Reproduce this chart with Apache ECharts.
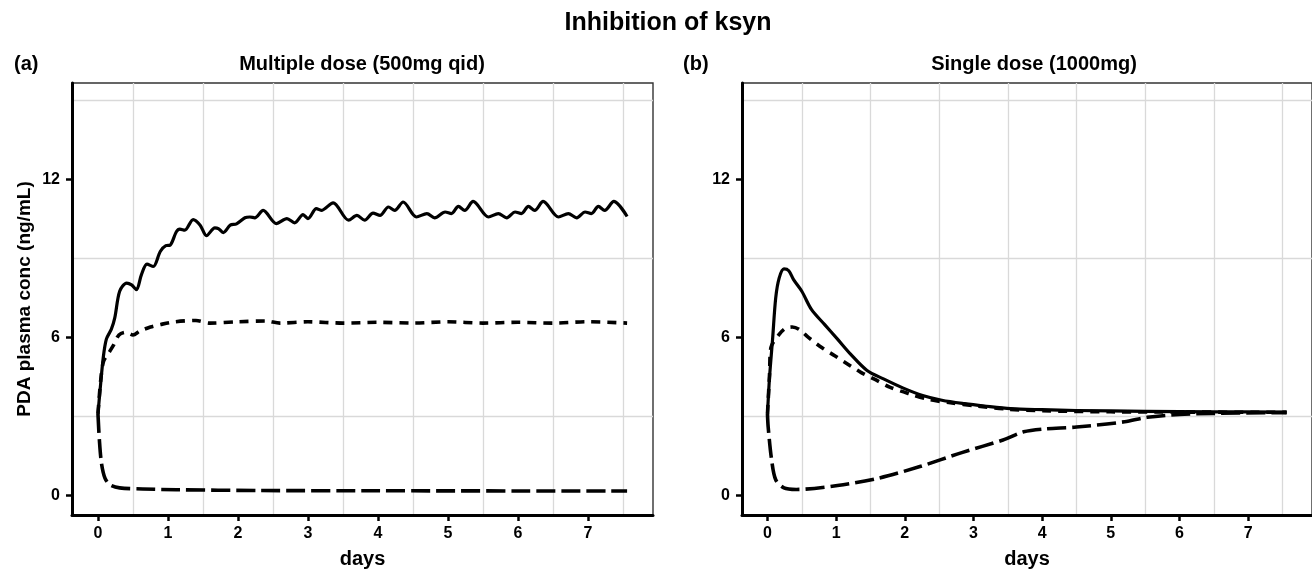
<!DOCTYPE html>
<html>
<head>
<meta charset="utf-8">
<script src="https://cdn.jsdelivr.net/npm/echarts@6/dist/echarts.min.js"></script>
<style>
  html, body { margin: 0; padding: 0; background: #fff; }
  #chart { width: 1312px; height: 574px; }
</style>
</head>
<body>
<div id="chart"></div>
<script>
// ticks and grid positions
var xTicks = [0, 1, 2, 3, 4, 5, 6, 7];
var xGridVals = [0.5, 1.5, 2.5, 3.5, 4.5, 5.5, 6.5, 7.5];
var yTicks = [0, 6, 12];
var yGridVals = [3, 9, 15];

// (a) multiple dose - solid
var multiSolidDays = [0, 0.03, 0.076, 0.12, 0.19, 0.24, 0.31, 0.41, 0.48, 0.55, 0.62, 0.70, 0.79, 0.89, 0.97, 1.03,
  1.12, 1.17, 1.24, 1.36, 1.46, 1.55, 1.67, 1.72, 1.79, 1.89, 1.98, 2.10, 2.17, 2.24, 2.36, 2.55, 2.70, 2.81,
  2.93, 3.00, 3.12, 3.19, 3.36, 3.58, 3.70, 3.81, 3.93, 4.03, 4.15, 4.24, 4.36, 4.55, 4.70, 4.81, 4.96, 5.05,
  5.15, 5.24, 5.36, 5.58, 5.72, 5.84, 5.96, 6.05, 6.15, 6.24, 6.36, 6.58, 6.72, 6.84, 6.96, 7.05, 7.15, 7.24,
  7.37, 7.56];
var multiSolidConc = [3.1, 4.0, 5.25, 5.94, 6.31, 6.75, 7.76, 8.07, 8.0, 7.82, 8.38, 8.79, 8.70, 9.27, 9.49, 9.51,
  10.02, 10.12, 10.08, 10.48, 10.27, 9.87, 10.17, 10.14, 9.99, 10.27, 10.32, 10.55, 10.58, 10.55, 10.83, 10.33, 10.52, 10.36,
  10.67, 10.52, 10.9, 10.83, 11.12, 10.46, 10.64, 10.46, 10.73, 10.64, 10.96, 10.83, 11.15, 10.58, 10.71, 10.55, 10.77, 10.71,
  10.98, 10.83, 11.17, 10.58, 10.71, 10.55, 10.77, 10.71, 10.98, 10.83, 11.17, 10.58, 10.71, 10.55, 10.77, 10.71, 10.98, 10.83,
  11.17, 10.6];

// (a) multiple dose - dotted
var multiDotDays = [0, 0.04, 0.08, 0.15, 0.22, 0.3, 0.4, 0.5, 0.6, 0.75, 0.9, 1.1, 1.4, 1.6, 2.0, 2.4, 2.6, 3.0,
  3.5, 4.0, 4.5, 5.0, 5.5, 6.0, 6.5, 7.0, 7.56];
var multiDotConc = [3.1, 4.4, 5.1, 5.4, 5.7, 6.1, 6.2, 6.1, 6.25, 6.4, 6.5, 6.6, 6.65, 6.55, 6.6, 6.63, 6.55, 6.6,
  6.55, 6.58, 6.55, 6.6, 6.55, 6.58, 6.55, 6.6, 6.55];

// (a) multiple dose - dashed
var multiDashDays = [0, 0.02, 0.05, 0.1, 0.17, 0.31, 0.64, 1.12, 2.31, 4.0, 7.56];
var multiDashConc = [3.1, 2.12, 1.23, 0.66, 0.41, 0.29, 0.25, 0.22, 0.19, 0.18, 0.17];

// (b) single dose - solid
var singleSolidDays = [0, 0.03, 0.076, 0.12, 0.17, 0.24, 0.31, 0.38, 0.5, 0.64, 0.83, 1.02, 1.21, 1.45, 1.69, 1.97,
  2.26, 2.54, 2.87, 3.16, 3.54, 4.0, 4.5, 5.5, 6.5, 7.56];
var singleSolidConc = [3.1, 4.49, 6.0, 7.51, 8.26, 8.61, 8.54, 8.2, 7.76, 7.07, 6.5, 5.94, 5.37, 4.75, 4.43, 4.09,
  3.8, 3.62, 3.49, 3.4, 3.3, 3.26, 3.23, 3.2, 3.18, 3.17];

// (b) single dose - dotted
var singleDotDays = [0, 0.03, 0.05, 0.17, 0.26, 0.36, 0.46, 0.6, 0.79, 0.98, 1.17, 1.36, 1.55, 1.78, 2.07, 2.35,
  2.64, 3.06, 3.5, 4.0, 5.0, 6.0, 7.56];
var singleDotConc = [3.1, 4.6, 5.62, 6.12, 6.35, 6.4, 6.31, 6.0, 5.62, 5.31, 4.99, 4.68, 4.43, 4.12, 3.86, 3.65,
  3.53, 3.4, 3.28, 3.22, 3.18, 3.17, 3.16];

// (b) single dose - dashed
var singleDashDays = [0, 0.01, 0.06, 0.12, 0.24, 0.42, 1.02, 1.62, 2.22, 2.83, 3.43, 3.73, 4.03, 4.5, 5.2, 5.53,
  6.0, 6.5, 7.56];
var singleDashConc = [3.1, 2.61, 1.36, 0.6, 0.29, 0.23, 0.38, 0.66, 1.1, 1.63, 2.11, 2.42, 2.53, 2.6, 2.8, 2.97,
  3.08, 3.12, 3.15];

function pairs(xs, ys) {
  return xs.map(function (x, i) { return [x, ys[i]]; });
}

var FONT = '"Liberation Sans", Arial, sans-serif';
var X_MIN = -0.371, X_MAX = 7.93;
var Y_MIN = -0.74, Y_MAX = 15.67;

function labelXAxis(gridIndex, withName) {
  return {
    type: 'value', gridIndex: gridIndex, position: 'bottom', min: X_MIN, max: X_MAX,
    name: withName ? 'days' : '', nameLocation: 'middle', nameGap: 34,
    nameTextStyle: { fontFamily: FONT, fontWeight: 'bold', fontSize: 20, color: '#000' },
    axisLine: { show: true, onZero: false, lineStyle: { color: '#000', width: 3 } },
    axisTick: { show: true, length: 6, customValues: xTicks, lineStyle: { color: '#000', width: 2.5 } },
    axisLabel: { customValues: xTicks, margin: 11, fontFamily: FONT, fontWeight: 'bold', fontSize: 16, color: '#000' },
    splitLine: { show: false }
  };
}
function gridXAxis(gridIndex) {
  return {
    type: 'value', gridIndex: gridIndex, position: 'top', min: X_MIN, max: X_MAX,
    axisLine: { show: false }, axisLabel: { show: false },
    axisTick: { show: false, customValues: xGridVals },
    splitLine: { show: true, lineStyle: { color: '#d9d9d9', width: 1.3 } }
  };
}
function labelYAxis(gridIndex, withName) {
  return {
    type: 'value', gridIndex: gridIndex, position: 'left', min: Y_MIN, max: Y_MAX,
    name: withName ? 'PDA plasma conc (ng/mL)' : '', nameLocation: 'middle', nameGap: 38, nameRotate: 90,
    nameTextStyle: { fontFamily: FONT, fontWeight: 'bold', fontSize: 19, color: '#000' },
    axisLine: { show: true, onZero: false, lineStyle: { color: '#000', width: 3 } },
    axisTick: { show: true, length: 6, customValues: yTicks, lineStyle: { color: '#000', width: 2.5 } },
    axisLabel: { customValues: yTicks, margin: 12, fontFamily: FONT, fontWeight: 'bold', fontSize: 16, color: '#000' },
    splitLine: { show: false }
  };
}
function gridYAxis(gridIndex) {
  return {
    type: 'value', gridIndex: gridIndex, position: 'right', min: Y_MIN, max: Y_MAX,
    axisLine: { show: false }, axisLabel: { show: false },
    axisTick: { show: false, customValues: yGridVals },
    splitLine: { show: true, lineStyle: { color: '#d9d9d9', width: 1.3 } }
  };
}
function line(xIdx, yIdx, xs, ys, dash) {
  return {
    type: 'line', xAxisIndex: xIdx, yAxisIndex: yIdx, data: pairs(xs, ys),
    showSymbol: false, symbol: 'none', smooth: 0.3, animation: false, silent: true,
    lineStyle: { color: '#000', width: dash ? 3.6 : 3.2, type: dash || 'solid', cap: 'butt', join: 'round' },
    z: 5
  };
}

var chart = echarts.init(document.getElementById('chart'));
chart.setOption({
  animation: false,
  backgroundColor: '#fff',
  title: [
    { text: 'Inhibition of ksyn', left: 668, top: 11, textAlign: 'center', padding: 0,
      textStyle: { fontFamily: FONT, fontWeight: 'bold', fontSize: 25, color: '#000' } },
    { text: 'Multiple dose (500mg qid)', left: 362, top: 54, textAlign: 'center', padding: 0,
      textStyle: { fontFamily: FONT, fontWeight: 'bold', fontSize: 20, color: '#000' } },
    { text: 'Single dose (1000mg)', left: 1034, top: 54, textAlign: 'center', padding: 0,
      textStyle: { fontFamily: FONT, fontWeight: 'bold', fontSize: 20, color: '#000' } },
    { text: '(a)', left: 14, top: 54, padding: 0,
      textStyle: { fontFamily: FONT, fontWeight: 'bold', fontSize: 20, color: '#000' } },
    { text: '(b)', left: 683, top: 54, padding: 0,
      textStyle: { fontFamily: FONT, fontWeight: 'bold', fontSize: 20, color: '#000' } }
  ],
  grid: [
    { left: 72, top: 83, width: 581, height: 436, show: true, borderColor: '#333', borderWidth: 1.4, backgroundColor: 'transparent' },
    { left: 742, top: 83, width: 584, height: 436, show: true, borderColor: '#333', borderWidth: 1.4, backgroundColor: 'transparent' }
  ],
  xAxis: [labelXAxis(0, true), gridXAxis(0), labelXAxis(1, true), gridXAxis(1)],
  yAxis: [labelYAxis(0, true), gridYAxis(0), labelYAxis(1, false), gridYAxis(1)],
  series: [
    line(0, 0, multiSolidDays, multiSolidConc, null),
    line(0, 0, multiDotDays, multiDotConc, [9, 7]),
    line(0, 0, multiDashDays, multiDashConc, [19, 6]),
    line(2, 2, singleSolidDays, singleSolidConc, null),
    line(2, 2, singleDotDays, singleDotConc, [9, 7]),
    line(2, 2, singleDashDays, singleDashConc, [19, 6])
  ]
});
</script>
</body>
</html>
